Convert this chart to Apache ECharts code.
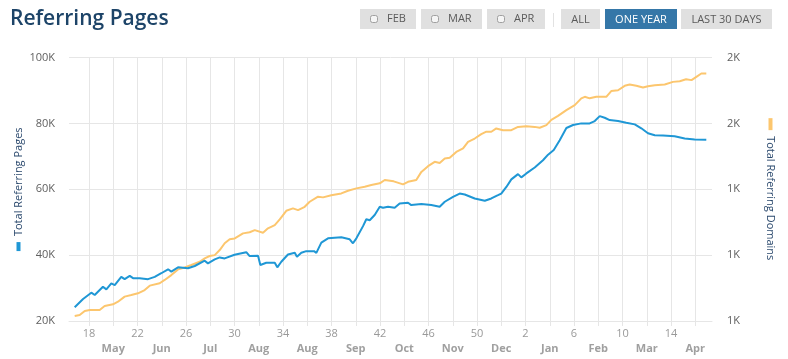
<!DOCTYPE html>
<html>
<head>
<meta charset="utf-8">
<script src="https://cdn.jsdelivr.net/npm/echarts@6/dist/echarts.min.js"></script>
<style>
  html, body { margin: 0; padding: 0; background: #fff; }
  #chart { width: 788px; height: 359px; }
</style>
</head>
<body>
<div id="chart"></div>
<script>
// x positions: weeks elapsed since week 18 (first labelled week)
const bluePagesWeeks = [-1.18,-0.49,0.19,0.47,1.15,1.43,1.84,2.12,2.66,2.94,3.36,3.63,4.18,4.31,4.87,5.42,5.96,6.52,6.79,7.34,8.16,8.72,9.54,9.81,10.37,10.78,11.19,12.0,12.97,13.25,13.94,14.13,14.62,15.32,15.53,15.86,16.41,16.97,17.15,17.51,17.92,18.56,18.75,19.16,19.71,20.81,21.5,21.77,22.05,22.6,22.87,23.15,23.56,23.98,24.25,24.66,25.21,25.62,26.31,26.58,27.41,28.23,28.92,29.34,30.02,30.57,30.99,31.81,32.64,33.18,33.73,34.0,34.42,34.83,35.38,35.65,36.07,36.76,37.44,37.86,38.33,38.82,39.37,39.92,40.6,41.29,41.71,42.12,42.53,42.94,43.63,44.31,45.01,45.55,46.1,46.66,47.34,48.3,49.13,49.95,50.91];
const totalReferringPages = [24200,26700,28600,27900,30400,29600,31400,30900,33400,32700,33700,33000,33000,32400,32700,33400,34500,35700,35000,36300,36000,36700,38300,37500,38700,39300,39000,40100,40900,39700,39800,37000,37700,37700,36300,38000,40200,40700,39500,40700,41200,41200,40700,43800,45100,45400,44800,43600,45100,48800,50900,50600,52200,54700,54400,54700,54400,55700,55900,55200,55500,55200,54700,56200,57700,58700,58400,57200,56500,57200,58200,58700,60700,63000,64600,63600,64800,66600,68800,70500,71900,74900,78600,79500,80000,80000,80700,82200,81700,81000,80700,80200,79700,78500,77000,76400,76300,76100,75400,75100,75000];

const domainWeeks = [-1.18,-0.77,-0.35,0.06,0.88,1.29,1.98,2.39,2.94,3.49,4.04,4.59,5.01,5.83,6.24,6.79,7.34,7.89,8.44,9.13,9.54,9.95,10.37,10.78,11.19,11.6,12.02,12.7,13.25,13.67,14.35,14.76,15.32,15.73,16.27,16.82,17.24,17.79,18.2,18.89,19.3,19.98,20.81,21.36,22.05,22.74,23.28,23.98,24.39,25.13,25.9,26.31,26.99,27.41,27.96,28.51,28.92,29.34,29.75,30.29,30.85,31.26,31.81,32.35,32.77,33.18,33.59,34.14,34.83,35.38,36.07,36.76,37.17,37.72,38.13,38.68,39.37,40.06,40.6,40.89,41.29,41.84,42.66,43.07,43.63,44.18,44.59,45.14,45.69,46.1,46.66,47.48,48.16,48.72,49.24,49.69,50.09,50.5,50.91];
const totalReferringDomains = [623,627,646,650,650,668,676,688,711,718,726,741,761,772,787,809,835,844,855,870,885,896,900,923,954,972,976,999,1004,1014,1002,1022,1037,1063,1102,1113,1105,1120,1143,1166,1163,1173,1181,1193,1204,1211,1219,1227,1242,1236,1222,1234,1242,1279,1305,1325,1320,1340,1343,1370,1386,1416,1431,1451,1462,1462,1477,1469,1469,1484,1487,1484,1480,1492,1516,1534,1560,1583,1614,1621,1614,1621,1621,1647,1651,1671,1677,1671,1663,1669,1674,1677,1689,1692,1701,1697,1712,1727,1727];

const weekTickLabels = ['18','22','26','30','34','38','42','46','50','2','6','10','14'];
const monthLabels = ['May','Jun','Jul','Aug','Aug','Sep','Oct','Nov','Dec','Jan','Feb','Mar','Apr'];
const leftTicks = [20000,40000,60000,80000,100000];
const leftTickLabels = ['20K','40K','60K','80K','100K'];
const rightTicks = [600,900,1200,1500,1800];
const rightTickLabels = ['1K','1K','1K','2K','2K'];
const monthButtons = ['FEB','MAR','APR'];
const rangeButtons = ['ALL','ONE YEAR','LAST 30 DAYS'];

const BLUE = '#1f97d5';
const YELLOW = '#fcc66e';
const GRID = '#e6e6e6';
const FONT = 'Open Sans';

const labelPos = weekTickLabels.map((_, i) => i * 4);
const monthPos = monthLabels.map((_, i) => i * 4 + 2);
const tickPos = [];
for (let w = 0; w <= 50; w += 2) tickPos.push(w);

const bluePairs = bluePagesWeeks.map((w, i) => [w, totalReferringPages[i]]);
const yellowPairs = domainWeeks.map((w, i) => [w, totalReferringDomains[i]]);

// Buttons (decorative UI)
const graphic = [];
const monthBtnBoxes = [[360, 56], [421, 61], [487, 58]];
monthButtons.forEach((t, i) => {
  const [x, w] = monthBtnBoxes[i];
  graphic.push({ type: 'rect', left: x, top: 9, shape: { width: w, height: 20 }, style: { fill: '#e0e0e0' }, silent: true });
  graphic.push({ type: 'rect', left: x + 10, top: 15, shape: { width: 7, height: 7, r: 2 }, style: { fill: '#f5f5f5', stroke: '#a0a0a0', lineWidth: 1 }, silent: true });
  graphic.push({ type: 'text', left: x + 27, top: 13, style: { text: t, fill: '#5a5a5a', font: '11px "' + FONT + '"' }, silent: true });
});
graphic.push({ type: 'rect', left: 553, top: 13, shape: { width: 1, height: 14 }, style: { fill: '#e2e2e2' }, silent: true });
const rangeBoxes = [[561, 39], [605, 72], [681, 91]];
rangeButtons.forEach((t, i) => {
  const [x, w] = rangeBoxes[i];
  const active = t === 'ONE YEAR';
  graphic.push({ type: 'rect', left: x, top: 9, shape: { width: w, height: 20 }, style: { fill: active ? '#3577a8' : '#e0e0e0' }, silent: true });
  graphic.push({ type: 'text', x: x + w / 2, y: 19.5, style: { text: t, fill: active ? '#ffffff' : '#5a5a5a', font: '11px "' + FONT + '"', align: 'center', verticalAlign: 'middle' }, silent: true });
});

const chart = echarts.init(document.getElementById('chart'), null, { renderer: 'canvas' });
chart.setOption({
  animation: false,
  backgroundColor: '#ffffff',
  title: {
    text: 'Referring Pages', left: 5, top: 4,
    textStyle: { fontFamily: FONT, fontSize: 21, fontWeight: 600, color: '#1d4468' }
  },
  graphic: graphic,
  grid: { left: 69, right: 76, top: 57.5, bottom: 38 },
  xAxis: [{
    type: 'value', min: -1.65, max: 51.38,
    axisLine: { show: true, lineStyle: { color: GRID } },
    axisTick: { show: true, length: 5, customValues: tickPos, lineStyle: { color: GRID } },
    splitLine: { show: true, lineStyle: { color: GRID, width: 1 } },
    axisLabel: {
      customValues: labelPos, margin: 7,
      formatter: v => weekTickLabels[labelPos.indexOf(Math.round(v))] || '',
      color: '#999', fontFamily: FONT, fontSize: 11
    }
  }, {
    type: 'value', min: -1.65, max: 51.38, position: 'bottom', offset: 15,
    axisLine: { show: false }, axisTick: { show: false }, splitLine: { show: false },
    axisLabel: {
      customValues: monthPos, margin: 7,
      formatter: v => monthLabels[monthPos.indexOf(Math.round(v))] || '',
      color: '#a0a0a0', fontFamily: FONT, fontSize: 11, fontWeight: 'bold'
    }
  }],
  yAxis: [{
    type: 'value', min: 20000, max: 100000, interval: 20000,
    axisLine: { show: false }, axisTick: { show: false },
    splitLine: { lineStyle: { color: GRID } },
    axisLabel: {
      formatter: v => leftTickLabels[leftTicks.indexOf(v)] || '',
      color: '#606060', fontFamily: FONT, fontSize: 11, margin: 14
    },
    name: '{m|}{t|Total Referring Pages}', nameLocation: 'middle', nameRotate: 90, nameGap: 45,
    nameMoveOverlap: false,
    nameTextStyle: {
      color: '#2c4a6e', fontFamily: FONT, fontSize: 11,
      rich: {
        m: { width: 9, height: 4, backgroundColor: BLUE },
        t: { color: '#2c4a6e', fontFamily: FONT, fontSize: 11, padding: [0, 0, 0, 6] }
      }
    }
  }, {
    type: 'value', min: 600, max: 1800, interval: 300, position: 'right',
    axisLine: { show: false }, axisTick: { show: false }, splitLine: { show: false },
    axisLabel: {
      formatter: v => rightTickLabels[rightTicks.indexOf(v)] || '',
      color: '#606060', fontFamily: FONT, fontSize: 11, margin: 15
    },
    name: '{m|}{t|Total Referring Domains}', nameLocation: 'middle', nameRotate: -90, nameGap: 53,
    nameTextStyle: {
      color: '#2c4a6e', fontFamily: FONT, fontSize: 11,
      rich: {
        m: { width: 12, height: 4, backgroundColor: YELLOW },
        t: { color: '#2c4a6e', fontFamily: FONT, fontSize: 11, padding: [0, 0, 0, 6] }
      }
    }
  }],
  series: [{
    name: 'Total Referring Domains', type: 'line', xAxisIndex: 0, yAxisIndex: 1,
    data: yellowPairs, showSymbol: false, symbol: 'none',
    lineStyle: { color: YELLOW, width: 2 }, z: 2
  }, {
    name: 'Total Referring Pages', type: 'line', xAxisIndex: 0, yAxisIndex: 0,
    data: bluePairs, showSymbol: false, symbol: 'none',
    lineStyle: { color: BLUE, width: 2 }, z: 3
  }]
});
</script>
</body>
</html>
